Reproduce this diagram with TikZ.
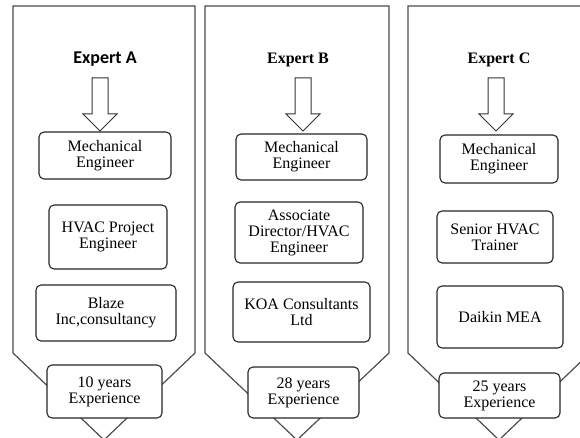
\documentclass[tikz,border=0pt]{standalone}
\usepackage{fontspec}
\setmainfont{Liberation Serif}
\newfontfamily\calibri{Carlito}

\tikzset{
  panel/.style={draw=black!70, line width=1.2pt, line join=miter},
  infobox/.style={draw=black!85, line width=1.1pt, rounded corners=5pt, fill=white,
    align=center, inner sep=0pt, font=\fontsize{16}{16}\selectfont},
  title/.style={anchor=base, font=\bfseries\fontsize{16}{16}\selectfont},
  blockarrow/.style={draw=black!80, line width=1pt, fill=white}
}

\begin{document}
\begin{tikzpicture}[x=1pt, y=-1pt]
    \useasboundingbox (0,0) rectangle (580,438);
    \clip (0,0) rectangle (580,438);

    % draw the three panels
    \foreach \l/\r/\m in {13/195/104, 205/389/297, 408/590/499}
      \draw[panel] (\l,353) -- (\l,6) -- (\r,6) -- (\r,353) -- (\m,440) -- cycle;

    % draw titles
    \node[title, font=\calibri\bfseries\fontsize{18}{18}\selectfont] (expA) at (105,64) {Expert A};
    \node[title] (expB) at (298,64) {Expert B};
    \node[title] (expC) at (499,64) {Expert C};

    % draw block arrows
    \foreach \x in {100,303,496}
      \draw[blockarrow] (\x-8,78) -- (\x+8,78) -- (\x+8,114) -- (\x+17,114)
        -- (\x,131) -- (\x-17,114) -- (\x-8,114) -- cycle;

    % draw boxes of expert A
    \node[infobox, minimum width=132pt, minimum height=47pt] (mechA) at (105,155.5) {Mechanical\\Engineer};
    \node[infobox, minimum width=118pt, minimum height=64pt] (roleA) at (108,237) {HVAC Project\\Engineer};
    \node[infobox, minimum width=140pt, minimum height=56pt] (firmA) at (106,313) {Blaze\\Inc,consultancy};
    \node[infobox, minimum width=115pt, minimum height=53pt] (yearsA) at (104.5,391.5) {10 years\\Experience};

    % draw boxes of expert B
    \node[infobox, minimum width=131pt, minimum height=46pt] (mechB) at (301.5,157) {Mechanical\\Engineer};
    \node[infobox, minimum width=128pt, minimum height=61pt] (roleB) at (299,232.5) {Associate\\Director/HVAC\\Engineer};
    \node[infobox, minimum width=137pt, minimum height=60pt] (firmB) at (301.5,312) {KOA Consultants\\Ltd};
    \node[infobox, minimum width=111pt, minimum height=51pt] (yearsB) at (303.5,392.5) {28 years\\Experience};

    % draw boxes of expert C
    \node[infobox, minimum width=118pt, minimum height=48pt] (mechC) at (499,159) {Mechanical\\Engineer};
    \node[infobox, minimum width=116pt, minimum height=52pt] (roleC) at (495,237) {Senior HVAC\\Trainer};
    \node[infobox, minimum width=126pt, minimum height=62pt] (firmC) at (500,317) {Daikin MEA};
    \node[infobox, minimum width=121pt, minimum height=45pt] (yearsC) at (499.5,395.5) {25 years\\Experience};
\end{tikzpicture}
\end{document}
